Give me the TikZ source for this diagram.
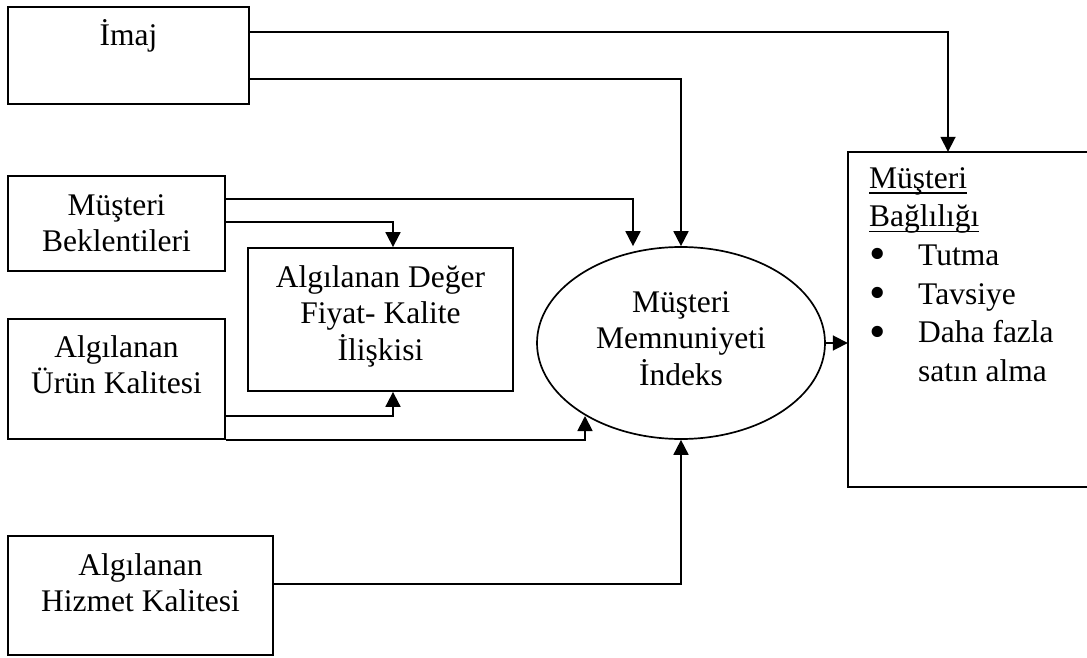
\documentclass[tikz,border=0pt]{standalone}
\usepackage{fontspec}
\setmainfont{Liberation Serif}
\usetikzlibrary{arrows.meta,shapes.geometric,calc}
\newcommand\tfirst{\rule{0pt}{30pt}}
\newcommand\ulword[1]{\sbox0{#1}\rlap{\rule[-5.5pt]{\wd0}{1.5pt}}\usebox0}
\newcommand\bul{\makebox[49pt][l]{\raisebox{-4.5pt}[0pt][0pt]{\fontsize{47}{47}\selectfont •}}}
\tikzset{
  box/.style={draw, line width=1.8pt, rectangle, inner sep=0pt},
  txt/.style={font=\fontsize{31.5}{36.5}\selectfont, align=center, anchor=north, inner sep=0pt},
  arr/.style={line width=1.8pt, -{Triangle[width=15pt,length=15pt]}},
}
\begin{document}
\begin{tikzpicture}[x=1pt,y=-1pt]
\useasboundingbox (0,0) rectangle (1087,658);
% boxes
\node[box, minimum width=241pt, minimum height=97pt]  (imaj) at (128.5,55.5) {};
\node[box, minimum width=217pt, minimum height=95pt]  (bek)  at (116.5,223.5) {};
\node[box, minimum width=265pt, minimum height=143pt] (deg)  at (380.5,319.5) {};
\node[box, minimum width=217pt, minimum height=120pt] (uru)  at (116.5,379) {};
\node[box, minimum width=265pt, minimum height=119pt] (hiz)  at (140.5,595.5) {};
\node[draw, ellipse, line width=1.7pt, minimum width=288pt, minimum height=192pt, inner sep=0pt] (ell) at (681,343) {};
% right box, cut off by the picture's right edge
\node[rectangle, inner sep=0pt, minimum width=244pt, minimum height=335pt] (loy) at (970,319.5) {};
\draw[line width=1.8pt] (loy.north east) -- (loy.north west) -- (loy.south west) -- (loy.south east);
% texts
\node[txt] (imajt) at (128.5,15) {\tfirst İmaj};
\node[txt] (bekt)  at (116.5,185) {\tfirst Müşteri\\Beklentileri};
\node[txt] (degt)  at (380.5,257) {\tfirst Algılanan Değer\\Fiyat- Kalite\\İlişkisi};
\node[txt] (urut)  at (116.5,327) {\tfirst Algılanan\\Ürün Kalitesi};
\node[txt] (hizt)  at (140.5,545) {\tfirst Algılanan\\Hizmet Kalitesi};
\node[txt] (ellt)  at (681,282) {\tfirst Müşteri\\Memnuniyeti\\İndeks};
\node[txt, align=left, anchor=north west, font=\fontsize{31.5}{38.6}\selectfont] (loyt) at (869,158)
  {\tfirst\ulword{Müşteri}\\\ulword{Bağlılığı}\\\bul Tutma\\\bul Tavsiye\\\bul Daha fazla\\\hspace*{49pt}satın alma};
% connectors
\coordinate (e2) at (585,416);
\draw[arr] (imaj.east |- 0,32) -| (loy.north -| 948,0);
\draw[arr] (imaj.east |- 0,79) -| (ell.north);
\draw[arr] (bek.east |- 0,199) -| (ell.north -| 633,0);
\draw[arr] (bek.east |- 0,222) -| (deg.north -| 393,0);
\draw[arr] (uru.east |- 0,416) -| (deg.south -| 393,0);
\draw[arr] (uru.south east) -| (e2);
\draw[arr] (hiz.east |- 0,584) -| (ell.south);
\draw[arr] (ell.east) -- (loy.west |- ell.east);
\end{tikzpicture}
\end{document}
